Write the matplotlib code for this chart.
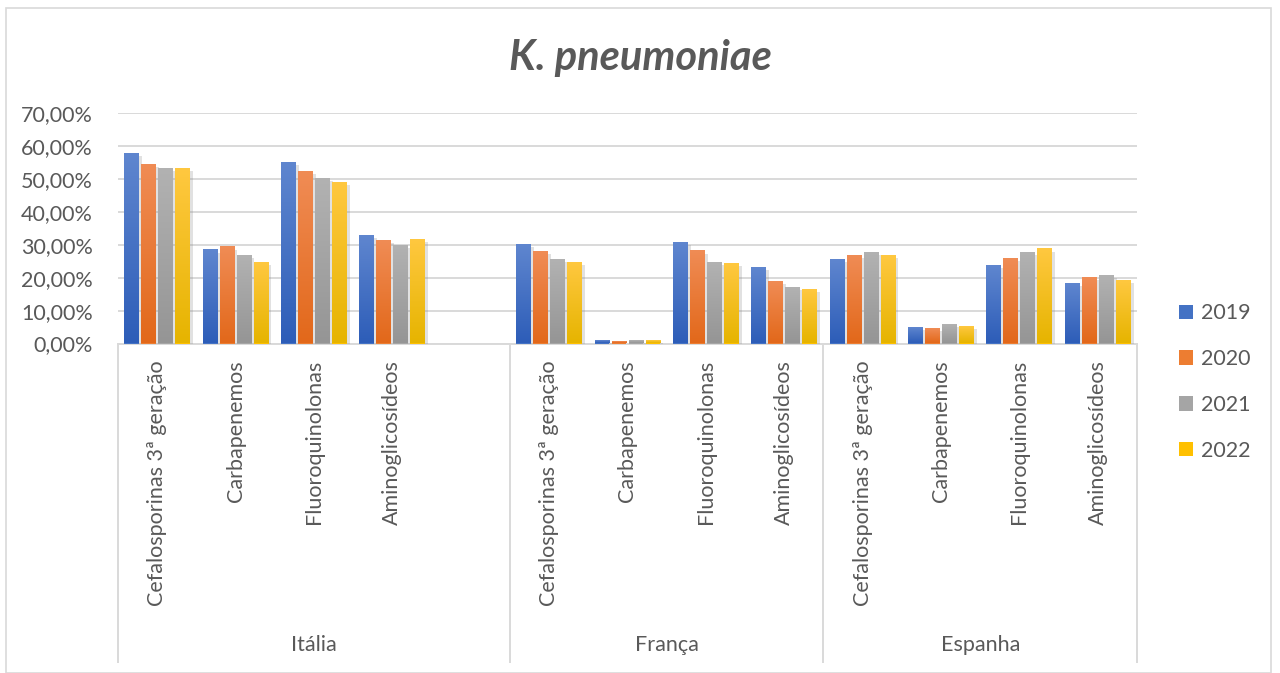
import numpy as np
import matplotlib
matplotlib.use("Agg")
import matplotlib.pyplot as plt
import matplotlib.patheffects as pe
from matplotlib.colors import LinearSegmentedColormap
from matplotlib.patches import Patch, Rectangle
from matplotlib.ticker import FuncFormatter

plt.rcParams['font.family'] = ['Lato', 'DejaVu Sans']

# categories per country ("" = empty slot after Itália)
countries = ["Itália", "França", "Espanha"]
country_slots = [(0, 5), (5, 9), (9, 13)]
slot_labels = ["Cefalosporinas 3ª geração", "Carbapenemos", "Fluoroquinolonas", "Aminoglicosídeos", "",
               "Cefalosporinas 3ª geração", "Carbapenemos", "Fluoroquinolonas", "Aminoglicosídeos",
               "Cefalosporinas 3ª geração", "Carbapenemos", "Fluoroquinolonas", "Aminoglicosídeos"]
years = ["2019", "2020", "2021", "2022"]

# resistance (%) per slot, nan for the empty slot
v2019 = [57.5, 28.3, 54.8, 32.6, np.nan, 30.1, 0.7, 30.7, 23.1, 25.3, 4.6, 23.7, 18.0]
v2020 = [54.2, 29.2, 52.3, 31.3, np.nan, 27.7, 0.4, 28.0, 18.6, 26.5, 4.3, 25.6, 19.8]
v2021 = [53.2, 26.5, 49.9, 29.8, np.nan, 25.3, 0.7, 24.6, 17.0, 27.4, 5.5, 27.4, 20.4]
v2022 = [53.2, 24.6, 48.7, 31.6, np.nan, 24.6, 0.7, 24.3, 16.4, 26.5, 4.9, 28.6, 18.9]
series = [v2019, v2020, v2021, v2022]

# (bottom, top) gradient colours and legend colour
grads = [("#2D5DB8", "#5F86CF"), ("#E2681A", "#F08C55"), ("#959595", "#B2B2B2"), ("#E6B400", "#FFC840")]
solid = ["#4472C4", "#ED7D31", "#A5A5A5", "#FFC000"]
txt = "#595959"
grid_c = "#D9D9D9"
fs = 15.5

fig = plt.figure(figsize=(12.8, 6.73), dpi=100)
W, H = 1280, 673
fig.patches.append(Rectangle((6 / W, 0), 1265 / W, (H - 8) / H, transform=fig.transFigure,
                             fill=False, edgecolor=grid_c, lw=1.2))

y0, y70 = 343.5, 113.3
ax = fig.add_axes([118 / W, (H - y0) / H, (1137 - 118) / W, (y0 - y70) / H])

n = len(slot_labels)
x = np.arange(n) + 0.5
step, width = 0.217, 0.19
gradient = np.linspace(0, 1, 256).reshape(-1, 1)

for j, vals in enumerate(series):
    cmap = LinearSegmentedColormap.from_list("g%d" % j, grads[j])
    pos = x + (j - 1.5) * step
    bars = ax.bar(pos, vals, width, color=solid[j], zorder=2,
                  path_effects=[pe.SimplePatchShadow(offset=(2, -1.5), shadow_rgbFace="#888888", alpha=0.25),
                                pe.Normal()])
    for b, v in zip(bars, vals):
        if np.isnan(v):
            continue
        ax.imshow(gradient, extent=[b.get_x(), b.get_x() + width, 0, v], origin="lower",
                  cmap=cmap, aspect="auto", zorder=3, interpolation="bilinear")

ax.set_xlim(0, n)
ax.set_ylim(0, 70)
ax.set_yticks(np.arange(0, 71, 10))
ax.yaxis.set_major_formatter(FuncFormatter(lambda v, p: ("%.2f%%" % v).replace(".", ",")))
ax.yaxis.grid(True, color=grid_c, lw=1.4)
ax.set_axisbelow(True)
for s in ["top", "right", "left"]:
    ax.spines[s].set_visible(False)
ax.spines["bottom"].set_color(grid_c)
ax.spines["bottom"].set_linewidth(1.4)
ax.spines["bottom"].set_zorder(1)

ax.set_xticks(x, slot_labels, rotation=90)
ax.tick_params(axis="x", length=0, pad=12, labelsize=fs, labelcolor=txt)
ax.tick_params(axis="y", length=0, pad=18, labelsize=fs, labelcolor=txt)

# country separators and names below the category labels
tr = ax.get_xaxis_transform()
y_end = (y0 - 662) / (y0 - y70)
for b in [0, 5, 9, 13]:
    ax.plot([b, b], [0, y_end], color=grid_c, lw=1.4, transform=tr, clip_on=False)
for name, (a, b) in zip(countries, country_slots):
    ax.text((a + b) / 2, (y0 - 645) / (y0 - y70), name, transform=tr, ha="center", va="center",
            fontsize=fs, color=txt)

fig.text(640 / W, 1 - 58 / H, "K. pneumoniae", ha="center", va="center", fontsize=30,
         fontstyle="italic", fontweight="bold", color=txt)

handles = [Patch(facecolor=c, edgecolor="none") for c in solid]
fig.legend(handles, years, loc="upper left", bbox_to_anchor=(1160 / W, 1 - 284 / H), frameon=False,
           fontsize=fs, labelcolor=txt, handlelength=0.65, handleheight=0.65, handletextpad=0.35,
           labelspacing=1.2)

fig.savefig("out.png", dpi=100)
